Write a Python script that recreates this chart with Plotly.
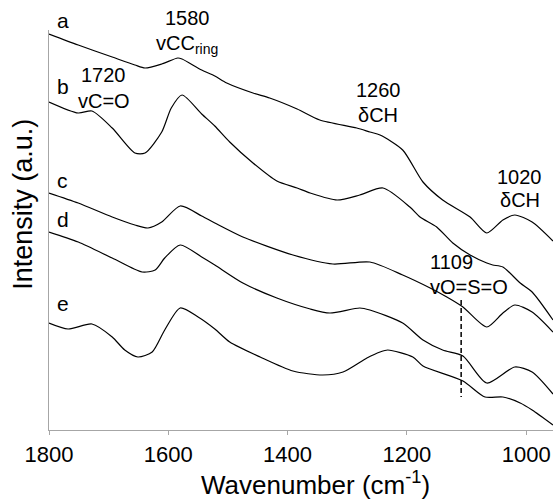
import plotly.graph_objects as go

# FTIR spectra (offset for clarity), wavenumber in cm-1, intensity in arbitrary units
wn_a = [1800, 1751, 1694, 1656, 1639, 1611, 1584, 1577, 1544, 1522, 1502, 1458, 1430,
        1384, 1346, 1284, 1262, 1245, 1207, 1173, 1140, 1094, 1066, 1039, 1019, 990, 955]
int_a = [99.0, 96.25, 93.25, 91.25, 90.5, 91.5, 93.0, 92.75, 90.0, 88.5, 86.75, 84.25, 83.0,
         80.25, 77.5, 75.5, 74.5, 73.75, 70.0, 62.0, 57.5, 53.25, 49.25, 52.5, 53.75, 52.0, 47.25]

wn_b = [1800, 1751, 1728, 1694, 1656, 1639, 1611, 1595, 1577, 1544, 1522, 1497, 1458, 1418,
        1384, 1362, 1317, 1279, 1240, 1195, 1178, 1150, 1123, 1094, 1066, 1056, 1039, 1010, 990, 955]
int_b = [82.0, 79.25, 79.75, 75.5, 69.25, 69.25, 74.5, 80.5, 83.75, 79.0, 76.0, 72.0, 66.75, 62.25,
         60.5, 59.25, 57.5, 58.75, 60.5, 55.75, 53.25, 50.75, 46.75, 43.75, 41.75, 41.25, 40.75, 36.75, 34.5, 27.5]

wn_c = [1800, 1751, 1694, 1656, 1634, 1611, 1580, 1544, 1522, 1475, 1391, 1324, 1262,
        1207, 1161, 1133, 1106, 1066, 1039, 1019, 990, 955]
int_c = [59.25, 56.75, 53.25, 51.25, 50.5, 52.0, 56.0, 53.5, 51.75, 48.25, 43.75, 41.5, 42.0,
         38.75, 35.5, 33.25, 30.75, 25.75, 29.25, 31.25, 29.5, 24.5]

wn_d = [1800, 1751, 1694, 1644, 1622, 1606, 1580, 1544, 1522, 1475, 1418, 1362, 1329, 1279,
        1262, 1207, 1173, 1140, 1106, 1066, 1019, 990, 955]
int_d = [49.5, 47.0, 43.0, 39.5, 40.0, 43.0, 46.25, 43.25, 41.25, 36.75, 33.0, 30.25, 29.25, 30.5,
         30.0, 26.75, 22.5, 20.0, 18.5, 11.75, 15.75, 14.5, 9.0]

wn_e = [1800, 1768, 1728, 1694, 1673, 1651, 1627, 1606, 1580, 1550, 1522, 1497, 1446, 1391,
        1341, 1307, 1267, 1245, 1232, 1190, 1173, 1106, 1069, 1039, 1010, 990, 955]
int_e = [26.75, 25.25, 26.5, 23.25, 20.0, 18.25, 19.5, 25.0, 30.5, 28.25, 25.25, 22.0, 18.25, 14.75,
         13.75, 14.5, 18.0, 19.5, 20.0, 18.25, 16.0, 12.25, 8.25, 8.25, 6.75, 5.0, 1.25]

series = [("a", wn_a, int_a), ("b", wn_b, int_b), ("c", wn_c, int_c),
          ("d", wn_d, int_d), ("e", wn_e, int_e)]

Y_MAX = 100.0  # top of the intensity axis

# Sample letters placed at the left end of each spectrum
letter_pos = {"a": (1776, 102.5), "b": (1776, 86.0), "c": (1777, 62.5),
              "d": (1776, 52.75), "e": (1776, 31.75)}

# Band assignments: (text, wavenumber, intensity, anchor)
band_labels = [
    ("1580", 1568, 103.0, "center"),
    ("vCC<sub>ring</sub>", 1568, 96.5, "center"),
    ("1720", 1708, 88.75, "center"),
    ("vC=O", 1708, 82.25, "center"),
    ("1260", 1248, 85.0, "center"),
    ("δCH", 1248, 78.75, "center"),
    ("1020", 1011, 63.25, "center"),
    ("δCH", 1011, 57.5, "center"),
    ("1109", 1164, 42.0, "left"),
    ("vO=S=O", 1164, 35.75, "left"),
]

# Dashed marker for the O=S=O stretch
so_band = 1109
so_span = (32.5, 8.25)

FONT = "Arial, 'Liberation Sans', sans-serif"

fig = go.Figure()
for name, wn, inten in series:
    fig.add_trace(go.Scatter(
        x=wn, y=inten, mode="lines", name=name,
        line=dict(color="black", width=1.2, shape="spline", smoothing=0.7),
        hoverinfo="skip", cliponaxis=False,
    ))

fig.add_trace(go.Scatter(
    x=[so_band, so_band], y=list(so_span), mode="lines",
    line=dict(color="black", width=1.5, dash="5px,3px"), hoverinfo="skip",
))

annotations = []
for name, (x, y) in letter_pos.items():
    annotations.append(dict(x=x, y=y / Y_MAX, xref="x", yref="paper", text=name,
                            showarrow=False,
                            font=dict(size=21, color="black", family=FONT),
                            xanchor="center", yanchor="middle"))
for text, x, y, anchor in band_labels:
    annotations.append(dict(x=x, y=y / Y_MAX, xref="x", yref="paper", text=text,
                            showarrow=False,
                            font=dict(size=20, color="black", family=FONT),
                            xanchor=anchor, yanchor="middle", align=anchor))

# Axis titles
annotations.append(dict(xref="paper", yref="paper", x=0.528, y=-0.1775,
                        text="Wavenumber (cm<sup>-1</sup>)", showarrow=False,
                        font=dict(size=26, color="black", family=FONT),
                        xanchor="center", yanchor="bottom", borderpad=0))
annotations.append(dict(xref="paper", yref="paper", x=-0.052, y=0.565,
                        text="Intensity (a.u.)", showarrow=False, textangle=-90,
                        font=dict(size=27, color="black", family=FONT),
                        xanchor="center", yanchor="middle"))

fig.update_layout(
    width=553, height=501,
    margin=dict(l=49, r=0, t=30, b=71),
    paper_bgcolor="white", plot_bgcolor="white",
    showlegend=False,
    annotations=annotations,
    font=dict(family=FONT, color="black"),
)
fig.update_xaxes(
    range=[1800, 955], tickvals=[1800, 1600, 1400, 1200, 1000],
    ticks="outside", ticklen=4, tickcolor="#a6a6a6", tickwidth=1,
    showline=True, linecolor="#a6a6a6", linewidth=1.2,
    showgrid=False, zeroline=False,
    tickfont=dict(size=22, color="black", family=FONT),
)
fig.update_yaxes(
    range=[0, Y_MAX], showticklabels=False, ticks="",
    showline=True, linecolor="#a6a6a6", linewidth=1.2,
    showgrid=False, zeroline=False,
)

fig.write_html("out.html")
